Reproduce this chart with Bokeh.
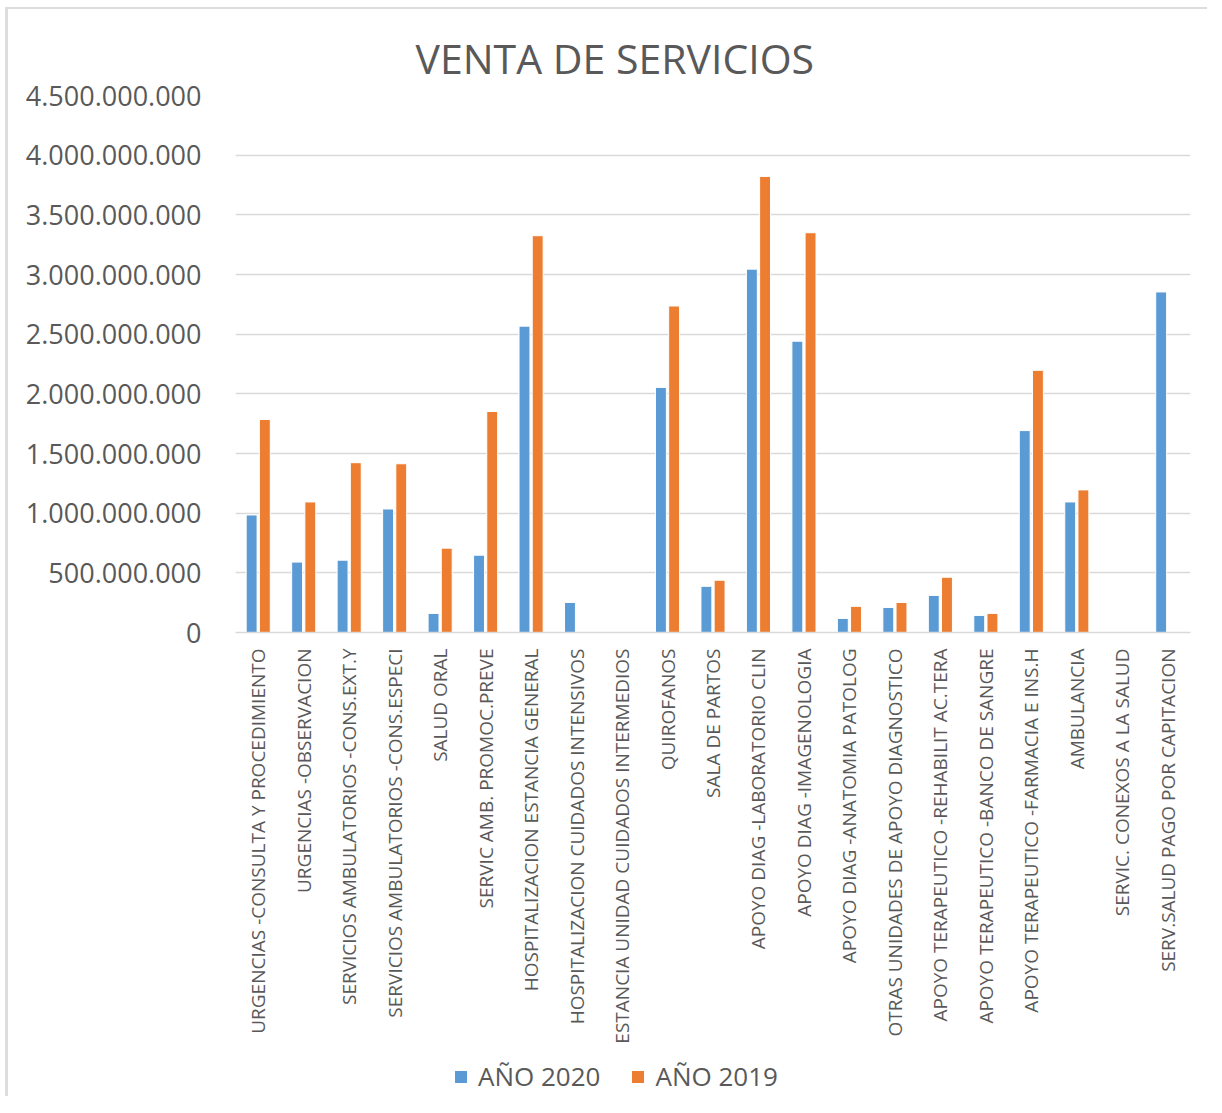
import math
from bokeh.plotting import figure
from bokeh.layouts import column
from bokeh.models import (ColumnDataSource, FactorRange, Legend, LegendItem,
                          CustomJSTickFormatter, FixedTicker)
from bokeh.transform import dodge
from bokeh.embed import file_html
from bokeh.resources import INLINE

categories = [
    "URGENCIAS -CONSULTA Y PROCEDIMIENTO",
    "URGENCIAS -OBSERVACION",
    "SERVICIOS AMBULATORIOS -CONS.EXT.Y",
    "SERVICIOS AMBULATORIOS -CONS.ESPECI",
    "SALUD ORAL",
    "SERVIC AMB. PROMOC.PREVE",
    "HOSPITALIZACION ESTANCIA GENERAL",
    "HOSPITALIZACION CUIDADOS INTENSIVOS",
    "ESTANCIA UNIDAD CUIDADOS INTERMEDIOS",
    "QUIROFANOS",
    "SALA DE PARTOS",
    "APOYO DIAG -LABORATORIO CLIN",
    "APOYO DIAG -IMAGENOLOGIA",
    "APOYO DIAG -ANATOMIA PATOLOG",
    "OTRAS UNIDADES DE APOYO DIAGNOSTICO",
    "APOYO TERAPEUTICO -REHABILIT AC.TERA",
    "APOYO TERAPEUTICO -BANCO DE SANGRE",
    "APOYO TERAPEUTICO -FARMACIA E INS.H",
    "AMBULANCIA",
    "SERVIC. CONEXOS A LA SALUD",
    "SERV.SALUD PAGO POR CAPITACION",
]

ano_2020 = [985e6, 590e6, 606e6, 1035e6, 160e6, 648e6, 2567e6, 252e6, 0,
            2054e6, 387e6, 3045e6, 2441e6, 118e6, 210e6, 311e6, 143e6,
            1692e6, 1094e6, 0, 2854e6]
ano_2019 = [1785e6, 1094e6, 1423e6, 1414e6, 707e6, 1852e6, 3325e6, 0, 0,
            2736e6, 438e6, 3822e6, 3350e6, 219e6, 252e6, 463e6, 160e6,
            2197e6, 1195e6, 0, 0]

y_ticks = [0, 500e6, 1000e6, 1500e6, 2000e6, 2500e6, 3000e6, 3500e6, 4000e6, 4500e6]

BLUE = "#5B9BD5"
ORANGE = "#ED7D31"
TXT = "#595959"
GRID = "#D9D9D9"
FONT = "Open Sans"

src = ColumnDataSource(dict(cat=categories, a2020=ano_2020, a2019=ano_2019))

p = figure(x_range=FactorRange(*categories, range_padding=0),
           y_range=(0, 4500e6),
           frame_width=952, frame_height=535,
           output_backend="svg", toolbar_location=None,
           min_border_left=227, min_border_right=20,
           min_border_top=86, min_border_bottom=0)

p.styles = {"margin-left": "5px", "margin-top": "7px",
            "border-left": "3px solid #DDDDDD", "border-top": "2px solid #DDDDDD"}
p.outline_line_color = None
p.background_fill_color = "white"
p.border_fill_color = "white"

p.vbar(x=dodge("cat", -0.145, range=p.x_range), top="a2020", width=0.24,
       source=src, fill_color=BLUE, line_color="white", line_width=1)
p.vbar(x=dodge("cat", 0.145, range=p.x_range), top="a2019", width=0.24,
       source=src, fill_color=ORANGE, line_color="white", line_width=1)

p.title.text = "VENTA DE SERVICIOS"
p.title.align = "left"
p.title.offset = 180
p.title.text_font = FONT
p.title.text_font_size = "41px"
p.title.text_font_style = "normal"
p.title.text_color = TXT
p.title.standoff = 20

p.xgrid.grid_line_color = None
p.ygrid.grid_line_color = GRID
p.ygrid.grid_line_width = 1.5

p.yaxis.ticker = FixedTicker(ticks=y_ticks)
p.yaxis.formatter = CustomJSTickFormatter(
    code="return Math.round(tick).toString().replace(/\\B(?=(\\d{3})+(?!\\d))/g, '.');")
p.yaxis.axis_line_color = None
p.yaxis.major_tick_line_color = None
p.yaxis.minor_tick_line_color = None
p.yaxis.major_label_text_font = FONT
p.yaxis.major_label_text_font_size = "27px"
p.yaxis.major_label_text_color = TXT
p.yaxis.major_label_standoff = 28

p.xaxis.axis_line_color = GRID
p.xaxis.axis_line_width = 1.5
p.xaxis.major_tick_line_color = None
p.xaxis.minor_tick_line_color = None
p.xaxis.major_label_orientation = math.pi / 2
p.xaxis.major_label_text_font = FONT
p.xaxis.major_label_text_font_size = "19px"
p.xaxis.major_label_text_color = TXT
p.xaxis.major_label_standoff = 10

# legend strip below the chart (its renderers are hidden; only the legend shows)
leg = figure(x_range=p.x_range, y_range=(-2, -1),
             frame_width=952, frame_height=40,
             output_backend="svg", toolbar_location=None,
             x_axis_type=None, y_axis_type=None,
             min_border_left=227, min_border_right=20,
             min_border_top=12, min_border_bottom=0)
leg.styles = {"margin-left": "5px", "border-left": "3px solid #DDDDDD"}
leg.outline_line_color = None
leg.grid.grid_line_color = None
leg.border_fill_color = "white"
lr1 = leg.vbar(x=dodge("cat", -0.145, range=leg.x_range), top="a2020", width=0.24,
               source=src, fill_color=BLUE, line_color=None)
lr2 = leg.vbar(x=dodge("cat", 0.145, range=leg.x_range), top="a2019", width=0.24,
               source=src, fill_color=ORANGE, line_color=None)
lr1.visible = False
lr2.visible = False

legend = Legend(items=[LegendItem(label="AÑO 2020", renderers=[lr1]),
                       LegendItem(label="AÑO 2019", renderers=[lr2])],
                orientation="horizontal", location=(218, 2),
                label_text_font=FONT, label_text_font_size="26px",
                label_text_color=TXT, glyph_width=15, glyph_height=15,
                spacing=30, label_standoff=10, border_line_color=None,
                background_fill_alpha=0, padding=4, margin=0,
                inactive_fill_alpha=0)
leg.add_layout(legend, "center")

layout = column(p, leg, spacing=0)
open("out.html", "w").write(file_html(layout, INLINE))
